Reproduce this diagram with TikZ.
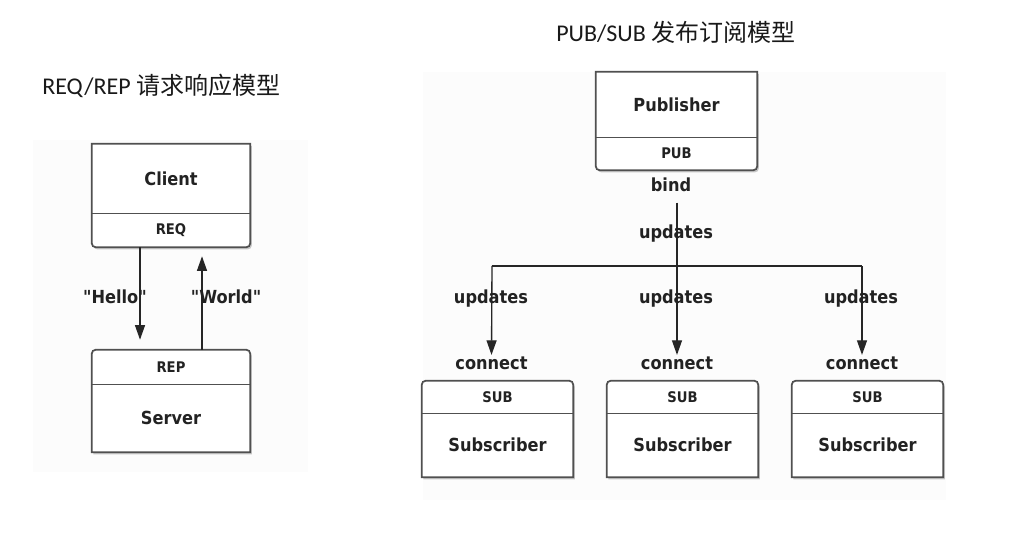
\documentclass[tikz,border=0pt]{standalone}
\usepackage{fontspec}
\setmainfont{Carlito}
\newfontfamily\cjk{Noto Sans CJK SC}
\newfontfamily\dg{DejaVuSansCondensed}[Extension=.ttf,BoldFont=DejaVuSansCondensed-Bold]
\usetikzlibrary{arrows.meta,shadows,calc}
\definecolor{boxline}{HTML}{505050}
\definecolor{txt}{HTML}{222222}
\definecolor{bgc}{HTML}{FCFCFC}
\tikzset{
  sect/.style={inner sep=0pt,minimum width=#1,text=txt,font=\dg\bfseries\fontsize{13.5}{15}\selectfont},
  port/.style={inner sep=0pt,minimum width=#1,text=txt,font=\dg\bfseries\fontsize{11}{13}\selectfont},
  lbl/.style={inner sep=1pt,text=txt,font=\dg\bfseries\fontsize{13.5}{15}\selectfont},
  outline/.style={draw=boxline,line width=1.3pt,fill=white,
     drop shadow={shadow xshift=1.2pt,shadow yshift=-1.6pt,opacity=0.35,fill=black!60}},
  divline/.style={draw=boxline,line width=1pt},
  conn/.style={draw=black!85,line width=1pt},
  arr/.style={conn,-{Triangle[length=11pt,width=7.5pt]}},
  title/.style={inner sep=0pt,anchor=west,text=black!90,font=\fontsize{18}{20}\selectfont}
}
\newcommand{\botround}[2]{% top node, bottom node: bottom corners rounded
  \path[outline] (#1.north west) -- (#1.north east) -- ($(#2.south east)+(0,-4)$)
    arc[start angle=0,end angle=-90,radius=3pt] -- ($(#2.south west)+(4,0)$)
    arc[start angle=-90,end angle=-180,radius=3pt] -- cycle;}
\newcommand{\topround}[2]{% top node, bottom node: top corners rounded
  \path[outline] (#2.south west) -- ($(#1.north west)+(0,4)$)
    arc[start angle=180,end angle=90,radius=3pt] -- ($(#1.north east)+(-4,0)$)
    arc[start angle=90,end angle=0,radius=3pt] -- (#2.south east) -- cycle;}
\begin{document}
\begin{tikzpicture}[x=0.75pt,y=-0.75pt]
\useasboundingbox (0,0) rectangle (1025,560);
% backgrounds
\fill[bgc] (33,140) rectangle (308,472);
\fill[bgc] (423,72) rectangle (946,500);
% titles
\node[title] (t1) at (42,86) {REQ/REP {\cjk 请求响应模型}};
\node[title] (t2) at (556,32) {PUB/SUB {\cjk 发布订阅模型}};
% ---- REQ/REP ----
\node[sect=118.5pt,minimum height=51.75pt] (client) at (171,178.5) {};
\node[port=118.5pt,minimum height=25.5pt] (req) at (171,230) {};
\botround{client}{req}
\draw[divline] (client.south west) -- (client.south east);
\node[sect=118.5pt,minimum height=51.75pt] at (client) {Client};
\node[port=118.5pt,minimum height=25.5pt] at (req) {REQ};

\node[port=118.5pt,minimum height=25.5pt] (rep) at (171,367) {};
\node[sect=118.5pt,minimum height=51pt] (server) at (171,418) {};
\topround{rep}{server}
\draw[divline] (rep.south west) -- (rep.south east);
\node[port=118.5pt,minimum height=25.5pt] at (rep) {REP};
\node[sect=118.5pt,minimum height=51pt] at (server) {Server};

\draw[arr] ($(req.south)+(-31,0)$) -- ($(rep.north)+(-31,-10)$);
\draw[arr] ($(rep.north)+(31,0)$) -- ($(req.south)+(31,9)$);
\node[lbl] (hello) at (115,297) {"Hello"};
\node[lbl] (world) at (226,297) {"World"};

% ---- PUB/SUB ----
\node[sect=120.75pt,minimum height=48.75pt] (pubn) at (676.5,104.5) {};
\node[port=120.75pt,minimum height=24.75pt] (pub) at (676.5,153.5) {};
\botround{pubn}{pub}
\draw[divline] (pubn.south west) -- (pubn.south east);
\node[sect=120.75pt,minimum height=48.75pt] at (pubn) {Publisher};
\node[port=120.75pt,minimum height=24.75pt] at (pub) {PUB};
\node[lbl] (bind) at (671,185) {bind};

\foreach \i/\cx in {1/497.5,2/682.5,3/867.5}{
  \node[port=113.25pt,minimum height=24pt] (sp\i) at (\cx,397) {};
  \node[sect=113.25pt,minimum height=48pt] (sb\i) at (\cx,445) {};
  \topround{sp\i}{sb\i}
  \draw[divline] (sp\i.south west) -- (sp\i.south east);
  \node[port=113.25pt,minimum height=24pt] at (sp\i) {SUB};
  \node[sect=113.25pt,minimum height=48pt] at (sb\i) {Subscriber};
}
\node[lbl] (c1) at (491.5,363) {connect};
\node[lbl] (c2) at (677,363) {connect};
\node[lbl] (c3) at (862,363) {connect};

\coordinate (hl) at (492,266);
\coordinate (hr) at (862,266);
\draw[conn] (hl) -- (hr);
\draw[arr] ($(bind.south)+(6,9)$) -- (c2.north);
\draw[arr] (hl) -- (c1.north);
\draw[arr] (hr) -- (c3.north);

\node[lbl] (u0) at (676,234) {updates};
\node[lbl] (u1) at (491,299) {updates};
\node[lbl] (u2) at (676,299) {updates};
\node[lbl] (u3) at (861,299) {updates};
\end{tikzpicture}
\end{document}
